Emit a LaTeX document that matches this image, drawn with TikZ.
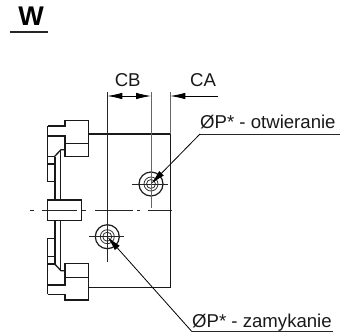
\documentclass[tikz,border=0pt]{standalone}
\usepackage{fontspec}
\setmainfont{Liberation Sans}
\usetikzlibrary{arrows.meta}
\tikzset{
  part/.style={draw=black!90,line width=1.3pt,line join=miter},
  thin line/.style={draw=black!85,line width=0.8pt},
  gray line/.style={draw=black!60,line width=0.9pt},
  axis/.style={draw=black!85,line width=0.8pt},
  dim/.style={draw=black,line width=0.8pt,-{Latex[length=15pt,width=6.5pt]}},
  lab/.style={inner sep=0pt,font=\fontsize{18.6pt}{18.6pt}\selectfont,text=black!90},
}
\begin{document}
\begin{tikzpicture}[x=1pt,y=-1pt]
\useasboundingbox (0,0) rectangle (349,333);
\node[inner sep=0pt,font=\bfseries\fontsize{27pt}{27pt}\selectfont] (title) at (31,16.5) {W};
\draw[line width=1.1pt,black!85] (9.5,32) -- (48,32);
% body
\draw[part] (88.3,134) -- (170.3,134) -- (170.3,287.7) -- (88.3,287.7);
% upper clamp
\draw[part] (47.7,126) -- (65,126) -- (65,120.3) -- (88.3,120.3) -- (88.3,156.7) -- (65,156.7) -- (65,136) -- (47.7,136);
\draw[part] (65,143.3) -- (88.3,143.3);
\draw[part] (47.7,126) -- (47.7,181.7) -- (54.7,181.7) -- (54.7,156.3) -- (47.7,156.3);
\draw[part] (47.7,164) -- (54.7,164);
\draw[part] (54.7,156.3) -- (61,149.7) -- (65,149.7);
% lower clamp
\draw[part] (47.7,294.3) -- (65,294.3) -- (65,300) -- (88.3,300) -- (88.3,263.3) -- (65,263.3) -- (65,285) -- (47.7,285);
\draw[part] (65,277.3) -- (88.3,277.3);
\draw[part] (47.7,294.3) -- (47.7,238.7) -- (54.7,238.7) -- (54.7,264) -- (47.7,264);
\draw[part] (47.7,256.7) -- (54.7,256.7);
\draw[part] (54.7,264) -- (61,270.7) -- (65,270.7);
% rods and block
\draw[part] (55,156.5) -- (55,200) (60.7,150) -- (60.7,200);
\draw[part] (55,220.7) -- (55,264) (60.7,220.7) -- (60.7,270);
\draw[part] (47.7,200) rectangle (81.7,220.7);
% centre line
\draw[axis] (30,210.3) -- (34,210.3) (41.7,210.3) -- (76.7,210.3) (81.7,210.3) -- (86,210.3) (95,210.3) -- (133,210.3) (137,210.3) -- (140,210.3) (147.7,210.3) -- (172,210.3);
% ports
\node[draw=black!90,line width=1.2pt,circle,minimum size=24pt,inner sep=0pt] (pa) at (151,184) {};
\node[draw=black!80,line width=0.8pt,circle,minimum size=14pt,inner sep=0pt] (pai) at (151,184) {};
\node[draw=black!80,line width=0.8pt,circle,minimum size=9pt,inner sep=0pt] (paj) at (151,184) {};
\node[draw=black!90,line width=1.2pt,circle,minimum size=24pt,inner sep=0pt] (pb) at (107.3,236.7) {};
\node[draw=black!80,line width=0.8pt,circle,minimum size=14pt,inner sep=0pt] (pbi) at (107.3,236.7) {};
\node[draw=black!80,line width=0.8pt,circle,minimum size=9pt,inner sep=0pt] (pbj) at (107.3,236.7) {};
\draw[thin line] (131.7,184) -- (167.7,184);
\draw[thin line] (89.3,236.7) -- (124,236.7);
\draw[thin line] (107.3,92) -- (107.3,261.7);
\draw[gray line] (151,92) -- (151,208);
\draw[gray line] (170.3,92) -- (170.3,134);
% dimensions
\coordinate (cb1) at (107.3,96);
\coordinate (cb2) at (151,96);
\coordinate (cbm) at (129,96);
\coordinate (ca1) at (170.3,96);
\coordinate (ca2) at (218,96);
\draw[dim] (cbm) -- (cb1);
\draw[dim] (cbm) -- (cb2);
\draw[dim] (ca2) -- (ca1);
\node[lab] (cb) at (127.7,80) {CB};
\node[lab] (ca) at (203,80) {CA};
% leaders
\node[lab,anchor=base west] (topt) at (200,128) {ØP* - otwieranie};
\node[lab,anchor=base west] (tzam) at (192,327) {ØP* - zamykanie};
\coordinate (u1) at (200,134);
\coordinate (u2) at (340,134);
\coordinate (l1) at (192,331.7);
\coordinate (l2) at (333,331.7);
\draw[thin line] (u2) -- (u1);
\draw[thin line] (l2) -- (l1);
\draw[dim] (u1) -- (pa.center);
\draw[dim] (l1) -- (pb.center);
\end{tikzpicture}
\end{document}
